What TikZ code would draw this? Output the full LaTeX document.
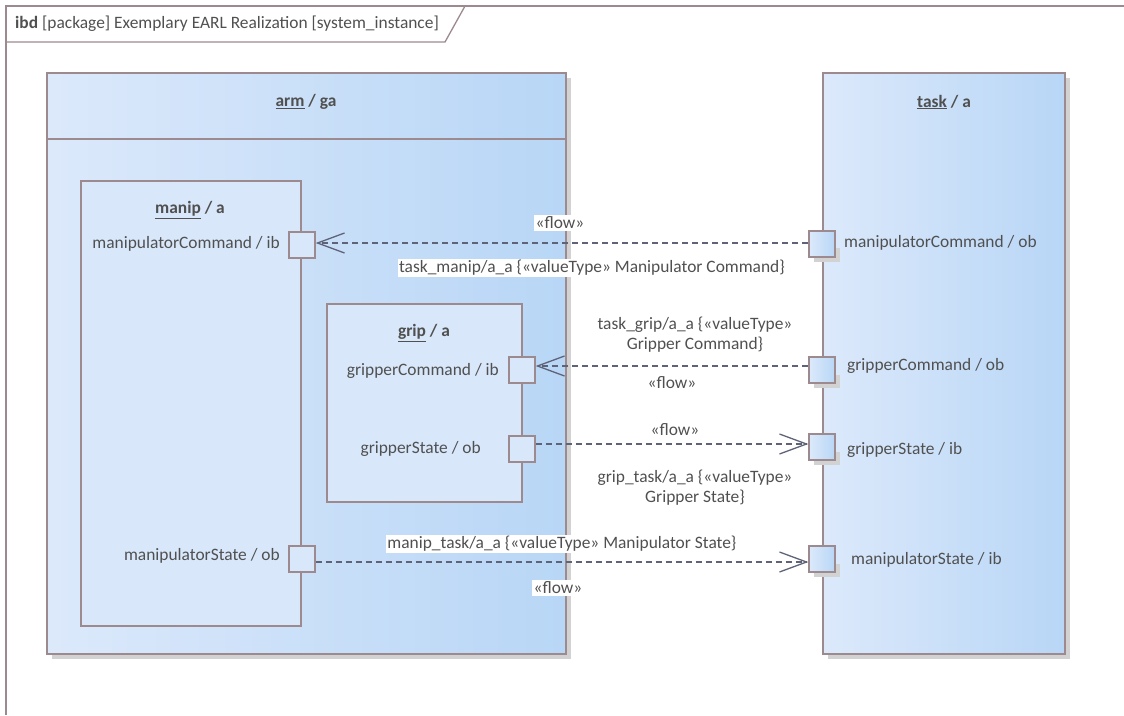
\documentclass[tikz,border=0pt]{standalone}
\usepackage{fontspec}
\setmainfont{Carlito}
\usetikzlibrary{arrows.meta}
\definecolor{bord}{HTML}{9C8A8E}
\definecolor{txt}{HTML}{505050}
\definecolor{conn}{HTML}{5E6378}
\definecolor{gl}{HTML}{DCE9FB}
\definecolor{gr}{HTML}{B8D6F6}
\definecolor{flat}{HTML}{D8E7FA}
\definecolor{shad}{HTML}{D2D2D2}
\tikzset{
  every node/.style={text=txt, font=\fontsize{17.4}{20}\selectfont, inner sep=1pt},
  blockbox/.style={draw=bord, line width=1.3pt, left color=gl, right color=gr, shading angle=90},
  innerbox/.style={draw=bord, line width=1.3pt, fill=flat},
  shadowbox/.style={fill=shad, draw=none},
  porti/.style={draw=bord, line width=1.3pt, fill=flat, minimum size=26pt, inner sep=0pt, rectangle},
  porto/.style={draw=bord, line width=1.3pt, left color=gl, right color=gr, minimum size=26pt, inner sep=0pt, rectangle},
  flowline/.style={draw=conn, line width=1.2pt, dash pattern=on 6pt off 4pt, -{Straight Barb[length=27pt,width=20pt,line width=1.3pt]}},
  lbl/.style={fill=white, inner sep=1.5pt},
  plain/.style={inner sep=1pt},
  ttl/.style={font=\fontsize{17.4}{20}\selectfont\bfseries},
}
\newcommand{\ul}[1]{\underline{#1}}
\begin{document}
\begin{tikzpicture}[x=1pt,y=-1pt]
\useasboundingbox (0,0) rectangle (1124,715);
% frame
\draw[bord, line width=1.5pt] (6,715) -- (6,6) -- (1124,6);
\draw[bord, line width=1.3pt] (6,42) -- (445,42) -- (465,6);
\node[anchor=west, inner sep=0pt] (frametitle) at (15,24) {\textbf{ibd} [package] Exemplary EARL Realization [system\_instance]};

% arm block
\fill[shadowbox] (52,78) rectangle (571,659);
\path[blockbox] (47,73) rectangle (566,654);
\draw[bord, line width=1.3pt] (47,139) -- (566,139);
\node[ttl] (armt) at (306,102) {\ul{arm} / ga};

% task block
\fill[shadowbox] (828,78) rectangle (1070,659);
\path[blockbox] (823,73) rectangle (1065,654);
\node[ttl] (taskt) at (944,102) {\ul{task} / a};

% manip
\path[innerbox] (81,181) rectangle (301,626);
\node[ttl] (manipt) at (190,210) {\ul{manip} / a};

% grip
\path[innerbox] (327,304) rectangle (522,502);
\node[ttl] (gript) at (424,333) {\ul{grip} / a};

% ports on manip / grip
\node[porti] (mc) at (302,245) {};
\node[anchor=east] (mcl) at (281,244) {manipulatorCommand / ib};
\node[porti] (ms) at (302,559) {};
\node[anchor=east] (msl) at (281,556) {manipulatorState / ob};
\node[porti] (gc) at (522,370) {};
\node[anchor=east] (gcl) at (500,371) {gripperCommand / ib};
\node[porti] (gs) at (522,449) {};
\node[anchor=east] (gsl) at (482,449) {gripperState / ob};

% task ports with shadows
\fill[shadowbox] (814,248) rectangle (840,262);
\fill[shadowbox] (814,375) rectangle (840,388);
\fill[shadowbox] (814,452) rectangle (840,465);
\fill[shadowbox] (814,564) rectangle (840,577);
\node[porto] (tmc) at (822,244) {};
\node[anchor=west] (tmcl) at (843,243) {manipulatorCommand / ob};
\node[porto] (tgc) at (822,370) {};
\node[anchor=west] (tgcl) at (846,366) {gripperCommand / ob};
\node[porto] (tgs) at (822,447) {};
\node[anchor=west] (tgsl) at (846,450) {gripperState / ib};
\node[porto] (tms) at (822,559) {};
\node[anchor=west] (tmsl) at (850,560) {manipulatorState / ib};

% connectors
\draw[flowline] (tmc.west |- 0,243) -- (mc.east |- 0,243);
\draw[flowline] (tgc.west |- 0,366) -- (gc.east |- 0,366);
\draw[flowline] (gs.east |- 0,444) -- (tgs.west |- 0,444);
\draw[flowline] (ms.east |- 0,562) -- (tms.west |- 0,562);

% labels
\node[lbl] (f1) at (560,223) {«flow»};
\node[lbl] (n1) at (592,268) {task\_manip/a\_a \{«valueType» Manipulator Command\}};
\node[plain, align=center] (n2) at (695,335) {task\_grip/a\_a \{«valueType»\\Gripper Command\}};
\node[plain] (f2) at (672,383) {«flow»};
\node[plain] (f3) at (675,430) {«flow»};
\node[plain, align=center] (n3) at (695,488) {grip\_task/a\_a \{«valueType»\\Gripper State\}};
\node[lbl] (n4) at (562,544) {manip\_task/a\_a \{«valueType» Manipulator State\}};
\node[lbl] (f4) at (558,588) {«flow»};
\end{tikzpicture}
\end{document}
